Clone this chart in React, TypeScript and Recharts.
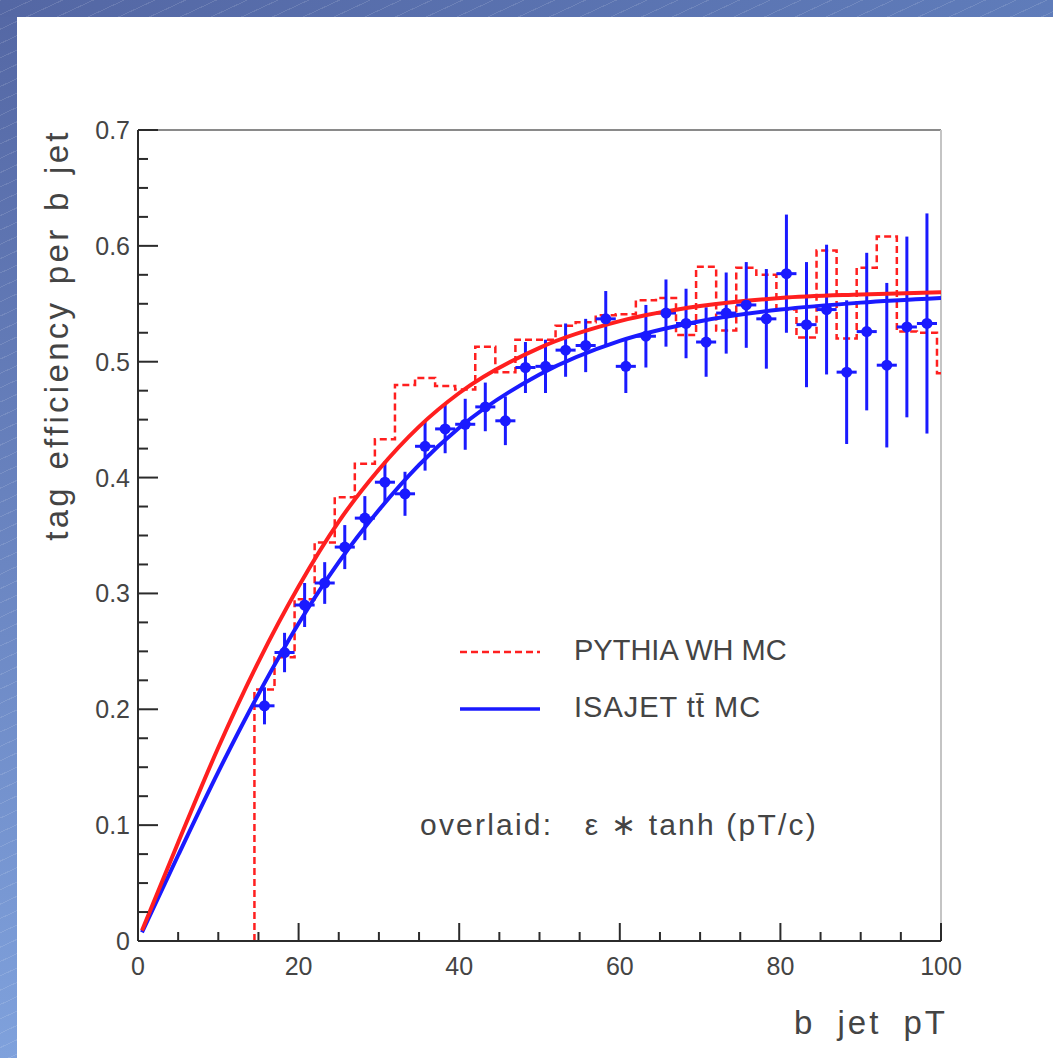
import React from "react";
import {
  ComposedChart,
  Line,
  Scatter,
  ErrorBar,
  XAxis,
  YAxis,
  ReferenceLine,
} from "recharts";

// ISAJET ttbar MC: points at bin centres (bins 2.5 GeV wide)
const binCenters = [
  15.75, 18.25, 20.75, 23.25, 25.75, 28.25, 30.75, 33.25, 35.75, 38.25, 40.75, 43.25,
  45.75, 48.25, 50.75, 53.25, 55.75, 58.25, 60.75, 63.25, 65.75, 68.25, 70.75, 73.25,
  75.75, 78.25, 80.75, 83.25, 85.75, 88.25, 90.75, 93.25, 95.75, 98.25,
];
const isajetEff = [
  0.203, 0.249, 0.29, 0.309, 0.34, 0.365, 0.396, 0.386, 0.427, 0.442, 0.446, 0.461,
  0.449, 0.495, 0.496, 0.51, 0.514, 0.537, 0.496, 0.522, 0.542, 0.533, 0.517, 0.542,
  0.549, 0.537, 0.576, 0.532, 0.545, 0.491, 0.526, 0.497, 0.53, 0.533,
];
const isajetErr = [
  0.016, 0.017, 0.019, 0.018, 0.019, 0.019, 0.018, 0.019, 0.021, 0.021, 0.022, 0.021,
  0.021, 0.022, 0.023, 0.023, 0.023, 0.024, 0.023, 0.027, 0.029, 0.03, 0.03, 0.035,
  0.037, 0.043, 0.051, 0.054, 0.056, 0.062, 0.068, 0.071, 0.078, 0.095,
];
const binHalfWidth = 1.25;

// PYTHIA WH MC histogram: value of each bin, keyed by its upper edge
const pythiaEdges = [
  14.5, 17, 19.5, 22, 24.5, 27, 29.5, 32, 34.5, 37, 39.5, 42, 44.5, 47, 49.5, 52, 54.5,
  57, 59.5, 62, 64.5, 67, 69.5, 72, 74.5, 77, 79.5, 82, 84.5, 87, 89.5, 92, 94.5, 97,
  99.5, 100,
];
const pythiaEff = [
  0, 0.217, 0.245, 0.295, 0.344, 0.383, 0.412, 0.433, 0.48, 0.486, 0.479, 0.476, 0.513,
  0.491, 0.519, 0.519, 0.531, 0.534, 0.54, 0.541, 0.553, 0.555, 0.523, 0.582, 0.527,
  0.581, 0.575, 0.545, 0.521, 0.596, 0.52, 0.581, 0.608, 0.526, 0.525, 0.49,
];

// overlaid fits, eps * tanh(pT/c)
const fitPt = [0.5, 5, 10, 15, 20, 25, 30, 35, 40, 50, 60, 70, 80, 90, 100];
const pythiaFit = [
  0.009, 0.085, 0.167, 0.241, 0.306, 0.362, 0.407, 0.444, 0.473, 0.512, 0.535, 0.548,
  0.555, 0.558, 0.56,
];
const isajetFit = [
  0.0075, 0.074, 0.146, 0.213, 0.274, 0.327, 0.372, 0.411, 0.443, 0.489, 0.518, 0.535,
  0.545, 0.551, 0.555,
];

const xTicks = [0, 5, 10, 15, 20, 25, 30, 35, 40, 45, 50, 55, 60, 65, 70, 75, 80, 85, 90, 95, 100];
const yTicks = [
  0, 0.025, 0.05, 0.075, 0.1, 0.125, 0.15, 0.175, 0.2, 0.225, 0.25, 0.275, 0.3, 0.325,
  0.35, 0.375, 0.4, 0.425, 0.45, 0.475, 0.5, 0.525, 0.55, 0.575, 0.6, 0.625, 0.65,
  0.675, 0.7,
];

const isajetPts = binCenters.map((x, i) => ({
  x,
  y: isajetEff[i],
  yErr: isajetErr[i],
  xErr: binHalfWidth,
}));
const pythiaHist = pythiaEdges.map((x, i) => ({ x, y: pythiaEff[i] }));
const pythiaCurve = fitPt.map((x, i) => ({ x, y: pythiaFit[i] }));
const isajetCurve = fitPt.map((x, i) => ({ x, y: isajetFit[i] }));

const RED = "#ff1f1f";
const BLUE = "#1a1aff";
const INK = "#2b2b2b";
const FONT = "'Liberation Sans', Arial, sans-serif";

const XTick = ({ x, y, payload }: any) => {
  const v = payload.value;
  const major = v % 20 === 0;
  return (
    <g>
      <line x1={x} x2={x} y1={y} y2={y - (major ? 18 : 9)} stroke={INK} strokeWidth={2} />
      {major && (
        <text x={x} y={y + 25} textAnchor="middle" dominantBaseline="central" fontSize={25} fill="#444" fontFamily={FONT}>
          {v}
        </text>
      )}
    </g>
  );
};

const YTick = ({ x, y, payload }: any) => {
  const v = payload.value;
  const major = Math.abs(v * 10 - Math.round(v * 10)) < 1e-6;
  return (
    <g>
      <line x1={x} x2={x + (major ? 20 : 10)} y1={y} y2={y} stroke={INK} strokeWidth={2} />
      {major && (
        <text x={x - 8} y={y} textAnchor="end" dominantBaseline="central" fontSize={25} fill="#444" fontFamily={FONT}>
          {v === 0 ? "0" : v.toFixed(1)}
        </text>
      )}
    </g>
  );
};

const Dot = ({ cx, cy }: any) => <circle cx={cx} cy={cy} r={5.5} fill={BLUE} />;

export default function App() {
  return (
    <div
      style={{
        position: "absolute",
        left: 0,
        top: 0,
        width: 1053,
        height: 1058,
        background: "#fff",
        overflow: "hidden",
        fontFamily: FONT,
      }}
    >
      <div
        style={{
          position: "absolute",
          left: 0,
          top: 0,
          width: 17,
          height: 1058,
          background:
            "repeating-linear-gradient(155deg, rgba(255,255,255,0.12) 0 1px, transparent 1px 13px), linear-gradient(#5467a4, #7fa1dc)",
        }}
      />
      <div
        style={{
          position: "absolute",
          left: 0,
          top: 0,
          width: 1053,
          height: 17,
          background:
            "repeating-linear-gradient(155deg, rgba(255,255,255,0.12) 0 1px, transparent 1px 13px), linear-gradient(to right, #5467a4, #5f7cba)",
        }}
      />
      <div style={{ position: "absolute", left: 0, top: 0 }}>
        <ComposedChart
          width={1053}
          height={1058}
          margin={{ top: 130, right: 112, left: 78, bottom: 77 }}
        >
          <XAxis
            type="number"
            dataKey="x"
            domain={[0, 100]}
            ticks={xTicks}
            allowDataOverflow
            height={40}
            tickSize={0}
            tickMargin={0}
            tick={<XTick />}
            axisLine={{ stroke: INK, strokeWidth: 2 }}
            interval={0}
          />
          <YAxis
            type="number"
            domain={[0, 0.7]}
            ticks={yTicks}
            allowDataOverflow
            width={60}
            tickSize={0}
            tickMargin={0}
            tick={<YTick />}
            axisLine={{ stroke: INK, strokeWidth: 2 }}
            interval={0}
          />
          <ReferenceLine y={0.7} stroke="#8a8a8a" strokeWidth={2} ifOverflow="visible" />
          <ReferenceLine x={100} stroke="#c4c4c4" strokeWidth={2} ifOverflow="visible" />
          <Line
            data={pythiaHist}
            dataKey="y"
            type="stepBefore"
            stroke={RED}
            strokeWidth={2.5}
            strokeDasharray="7 4"
            dot={false}
            isAnimationActive={false}
          />
          <Scatter data={isajetPts} dataKey="y" shape={<Dot />} isAnimationActive={false}>
            <ErrorBar dataKey="yErr" direction="y" width={0} stroke={BLUE} strokeWidth={3} />
            <ErrorBar dataKey="xErr" direction="x" width={0} stroke={BLUE} strokeWidth={3} />
          </Scatter>
          <Line
            data={isajetCurve}
            dataKey="y"
            type="monotone"
            stroke={BLUE}
            strokeWidth={4}
            dot={false}
            isAnimationActive={false}
          />
          <Line
            data={pythiaCurve}
            dataKey="y"
            type="monotone"
            stroke={RED}
            strokeWidth={4}
            dot={false}
            isAnimationActive={false}
          />
        </ComposedChart>
      </div>

      {/* axis titles */}
      <div
        style={{
          position: "absolute",
          left: 57,
          top: 335,
          transform: "translate(-50%, -50%) rotate(-90deg)",
          whiteSpace: "nowrap",
          fontSize: 33,
          letterSpacing: 3.3,
          wordSpacing: 3,
          color: "#444",
        }}
      >
        tag efficiency per b jet
      </div>
      <div
        style={{
          position: "absolute",
          right: 1053 - 948,
          top: 1004,
          whiteSpace: "nowrap",
          fontSize: 33,
          letterSpacing: 3,
          wordSpacing: 10,
          color: "#444",
        }}
      >
        b jet pT
      </div>

      {/* legend */}
      <svg style={{ position: "absolute", left: 455, top: 640 }} width={90} height={80}>
        <line x1={5} x2={85} y1={12} y2={12} stroke={RED} strokeWidth={2.5} strokeDasharray="7 4" />
        <line x1={5} x2={85} y1={69} y2={69} stroke={BLUE} strokeWidth={3.5} />
      </svg>
      <div style={{ position: "absolute", left: 574, top: 634, fontSize: 29, color: "#444", whiteSpace: "nowrap" }}>
        PYTHIA WH MC
      </div>
      <div style={{ position: "absolute", left: 574, top: 691, fontSize: 29, color: "#444", whiteSpace: "nowrap", letterSpacing: 1 }}>
        ISAJET tt̄ MC
      </div>
      <div
        style={{
          position: "absolute",
          left: 420,
          top: 807,
          fontSize: 30,
          color: "#444",
          whiteSpace: "pre",
          letterSpacing: 2.2,
        }}
      >
        {"overlaid:   ε ∗ tanh (pT/c)"}
      </div>
    </div>
  );
}
